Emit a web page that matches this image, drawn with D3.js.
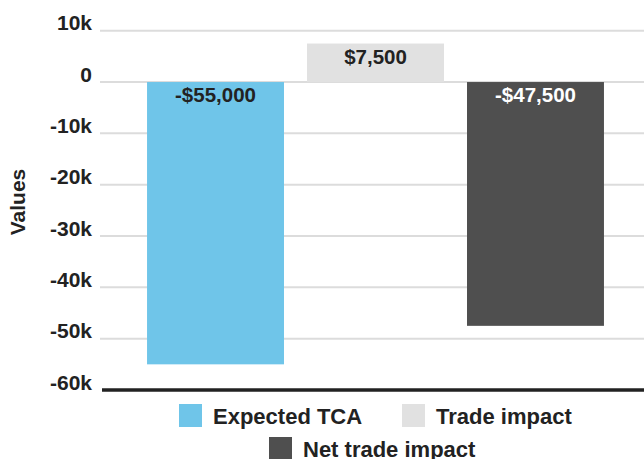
<html>
<head>
<script src="https://d3js.org/d3.v7.min.js"></script>
<style>
body { margin:0; background:#fff; }
text { font-family: "Liberation Sans", Arial, sans-serif; font-weight: bold; fill:#222; }
</style>
</head>
<body>
<svg width="644" height="459"></svg>
<script>
// chart data
var categories = ["Expected TCA", "Trade impact", "Net trade impact"];
var values = [-55000, 7500, -47500];
var valueLabels = ["-$55,000", "$7,500", "-$47,500"];
var colors = ["#6fc5e9", "#e1e1e1", "#4f4f4f"];
var labelColors = ["#222", "#222", "#fff"];
var yTicks = [10000, 0, -10000, -20000, -30000, -40000, -50000, -60000];

var width = 644, height = 459;
var svg = d3.select("svg");

var y = d3.scaleLinear()
	.domain([-60000, 10000])
	.range([390, 30.7]);
var x = d3.scaleBand()
	.domain(categories)
	.range([124, 627])
	.paddingInner(0.144)
	.paddingOuter(0.144);

// gridlines
svg.append("g").selectAll("line")
	.data(yTicks.filter(function(d) { return d > -60000; }))
	.enter().append("line")
	.attr("x1", 100).attr("x2", width)
	.attr("y1", d => y(d)).attr("y2", d => y(d))
	.attr("stroke", "#dcdcdc")
	.attr("stroke-width", 2);

// y axis tick labels
var yAxis = d3.axisLeft(y)
	.tickValues(yTicks)
	.tickSize(0)
	.tickPadding(0)
	.tickFormat(function(d) { return d === 0 ? "0" : (d / 1000) + "k"; });
svg.append("g")
	.attr("transform", "translate(92,0)")
	.call(yAxis)
	.call(g => g.select(".domain").remove())
	.call(g => g.selectAll("text")
		.attr("dy", "-1")
		.style("font-size", "21px")
		.attr("fill", "#222"));

svg.append("text")
	.attr("transform", "translate(25,202) rotate(-90)")
	.attr("text-anchor", "middle")
	.style("font-size", "21px")
	.text("Values");

// bars
var data = categories.map(function(c, i) {
	return {cat:c, value:values[i], label:valueLabels[i], color:colors[i], lc:labelColors[i]};
});
var bars = svg.selectAll(".bar")
	.data(data)
	.enter().append("g")
	.attr("class", "bar");
bars.append("rect")
	.attr("x", d => x(d.cat))
	.attr("width", x.bandwidth())
	.attr("y", d => y(Math.max(d.value, 0)))
	.attr("height", d => Math.abs(y(d.value) - y(0)))
	.attr("fill", d => d.color);
bars.append("text")
	.attr("x", d => x(d.cat) + x.bandwidth() / 2)
	.attr("y", d => y(Math.max(d.value, 0)) + 20)
	.attr("text-anchor", "middle")
	.style("font-size", "20.5px")
	.style("fill", d => d.lc)
	.text(d => d.label);

// bottom axis line
svg.append("line")
	.attr("x1", 102).attr("x2", width)
	.attr("y1", y(-60000)).attr("y2", y(-60000))
	.attr("stroke", "#222")
	.attr("stroke-width", 3.5);

// legend
var legendPos = [[179, 404], [402, 404], [269, 437]];
var legend = svg.selectAll(".legend")
	.data(data)
	.enter().append("g")
	.attr("class", "legend")
	.attr("transform", (d, i) => "translate(" + legendPos[i][0] + "," + legendPos[i][1] + ")");
legend.append("rect")
	.attr("width", 23).attr("height", 23)
	.attr("fill", d => d.color);
legend.append("text")
	.attr("x", 34).attr("y", 20)
	.style("font-size", "22px")
	.text(d => d.cat);
</script>
</body>
</html>
